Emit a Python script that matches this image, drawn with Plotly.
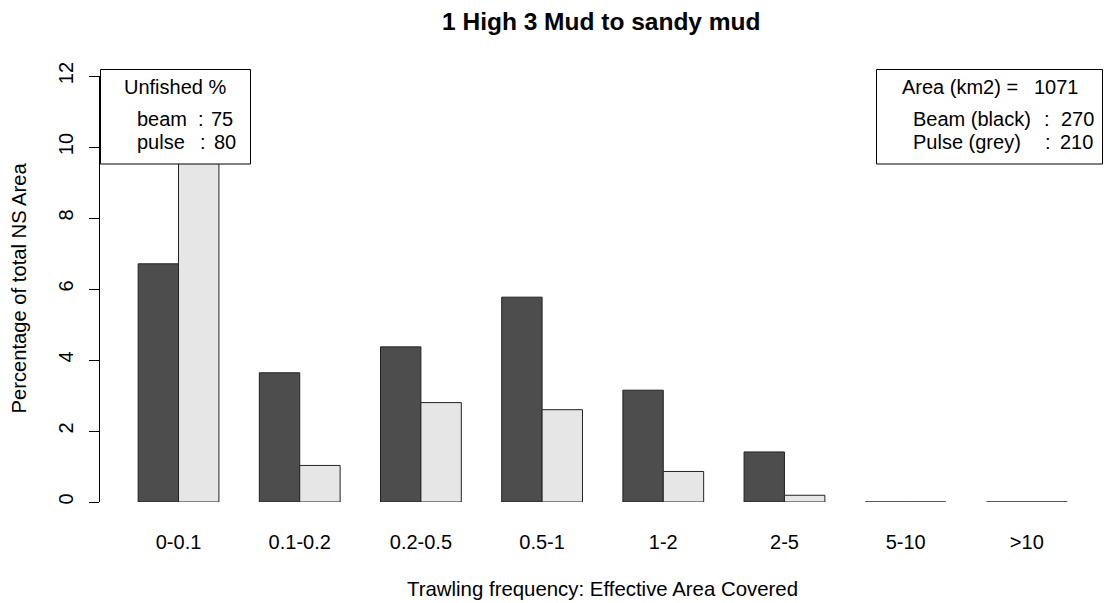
import plotly.graph_objects as go

categories = ["0-0.1", "0.1-0.2", "0.2-0.5", "0.5-1", "1-2", "2-5", "5-10", ">10"]
beam = [6.71, 3.64, 4.37, 5.77, 3.15, 1.41, 0.0, 0.0]
pulse = [10.8, 1.03, 2.80, 2.60, 0.86, 0.19, 0.0, 0.0]
y_ticks = [0, 2, 4, 6, 8, 10, 12]

title = "1 High 3 Mud to sandy mud"
x_title = "Trawling frequency: Effective Area Covered"
y_title = "Percentage of total NS Area"
unfished_title = "Unfished %"
unfished_labels = ["beam", "pulse"]
unfished_values = [75, 80]
area_label = "Area (km2) ="
area_value = 1071
gear_labels = ["Beam (black)", "Pulse (grey)"]
gear_values = [270, 210]

FONT = "Liberation Sans, Arial, sans-serif"
W, H = 1105, 603
L, R, T, B = 100, 0, 76, 101
PW = W - L - R
PH = H - T - B


def fx(px):
    return (px - L) / PW


def fy(py):
    return (H - B - py) / PH


# tiny visible stroke for zero-height bars (R draws them as a line)
def show(v):
    return v if v > 0 else 1e-4


fig = go.Figure()
fig.add_trace(go.Bar(x=categories, y=[show(v) for v in beam], name="Beam",
                     marker=dict(color="#4d4d4d", line=dict(color="#222222", width=1))))
fig.add_trace(go.Bar(x=categories, y=[show(v) for v in pulse], name="Pulse",
                     marker=dict(color="#e6e6e6", line=dict(color="#222222", width=1))))

fig.update_layout(
    width=W, height=H,
    margin=dict(l=L, r=R, t=T, b=B, pad=0),
    paper_bgcolor="white", plot_bgcolor="white",
    barmode="group", bargap=1/3, bargroupgap=0,
    showlegend=False,
    font=dict(family=FONT, size=20, color="#000000"),
)
fig.update_xaxes(
    type="category", range=[-0.648, 7.645],
    showline=False, showgrid=False, zeroline=False, ticks="",
    tickfont=dict(size=20), ticklabelstandoff=26,
)
fig.update_yaxes(
    range=[0, 12], tickvals=y_ticks, ticktext=[str(t) for t in y_ticks],
    showline=True, linecolor="#000000", linewidth=1,
    ticks="outside", ticklen=10, tickwidth=1, tickcolor="#000000",
    tickangle=-90, tickfont=dict(size=20), ticklabelstandoff=8,
    showgrid=False, zeroline=False,
)

ann = []
ann.append(dict(text="<b>" + title + "</b>", x=fx(601.5), y=fy(22), xref="paper", yref="paper",
                showarrow=False, xanchor="center", yanchor="middle", font=dict(size=24.5)))
ann.append(dict(text=x_title, x=fx(602.5), y=fy(589), xref="paper", yref="paper",
                showarrow=False, xanchor="center", yanchor="middle", font=dict(size=20.4)))
ann.append(dict(text=y_title, x=fx(18), y=fy(288.5), xref="paper", yref="paper",
                showarrow=False, xanchor="center", yanchor="middle", textangle=-90,
                font=dict(size=20.2)))

shapes = []
# left legend box
shapes.append(dict(type="rect", xref="paper", yref="paper", x0=fx(100.5), x1=fx(250.5),
                   y0=fy(164), y1=fy(69.5), fillcolor="white",
                   line=dict(color="#000000", width=1), layer="above"))
# right legend box
shapes.append(dict(type="rect", xref="paper", yref="paper", x0=fx(876.5), x1=fx(1102.5),
                   y0=fy(164), y1=fy(69.5), fillcolor="white",
                   line=dict(color="#000000", width=1), layer="above"))

ann.append(dict(text=unfished_title, x=fx(174.5), y=fy(87), xref="paper", yref="paper",
                showarrow=False, xanchor="center", yanchor="middle"))
rows_y = [118.5, 141.5]
colon_x = [200.5, 203]
val_x_left = [208.5, 211.5]
for i, (lab, val) in enumerate(zip(unfished_labels, unfished_values)):
    ann.append(dict(text=lab, x=fx(134.5), y=fy(rows_y[i]), xref="paper", yref="paper",
                    showarrow=False, xanchor="left", yanchor="middle"))
    ann.append(dict(text=":", x=fx(colon_x[i]), y=fy(rows_y[i]), xref="paper", yref="paper",
                    showarrow=False, xanchor="center", yanchor="middle"))
    ann.append(dict(text=str(val), x=fx(val_x_left[i]), y=fy(rows_y[i]), xref="paper", yref="paper",
                    showarrow=False, xanchor="left", yanchor="middle"))

ann.append(dict(text=area_label, x=fx(900), y=fy(87), xref="paper", yref="paper",
                showarrow=False, xanchor="left", yanchor="middle"))
ann.append(dict(text=str(area_value), x=fx(1032), y=fy(87), xref="paper", yref="paper",
                showarrow=False, xanchor="left", yanchor="middle"))
gear_colon_x = [1047, 1048]
gear_val_x = [1059, 1057.5]
for i, (lab, val) in enumerate(zip(gear_labels, gear_values)):
    ann.append(dict(text=lab, x=fx(910.5), y=fy(rows_y[i]), xref="paper", yref="paper",
                    showarrow=False, xanchor="left", yanchor="middle"))
    ann.append(dict(text=":", x=fx(gear_colon_x[i]), y=fy(rows_y[i]), xref="paper", yref="paper",
                    showarrow=False, xanchor="center", yanchor="middle"))
    ann.append(dict(text=str(val), x=fx(gear_val_x[i]), y=fy(rows_y[i]), xref="paper", yref="paper",
                    showarrow=False, xanchor="left", yanchor="middle"))

fig.update_layout(annotations=ann, shapes=shapes)
fig.write_html("out.html")
